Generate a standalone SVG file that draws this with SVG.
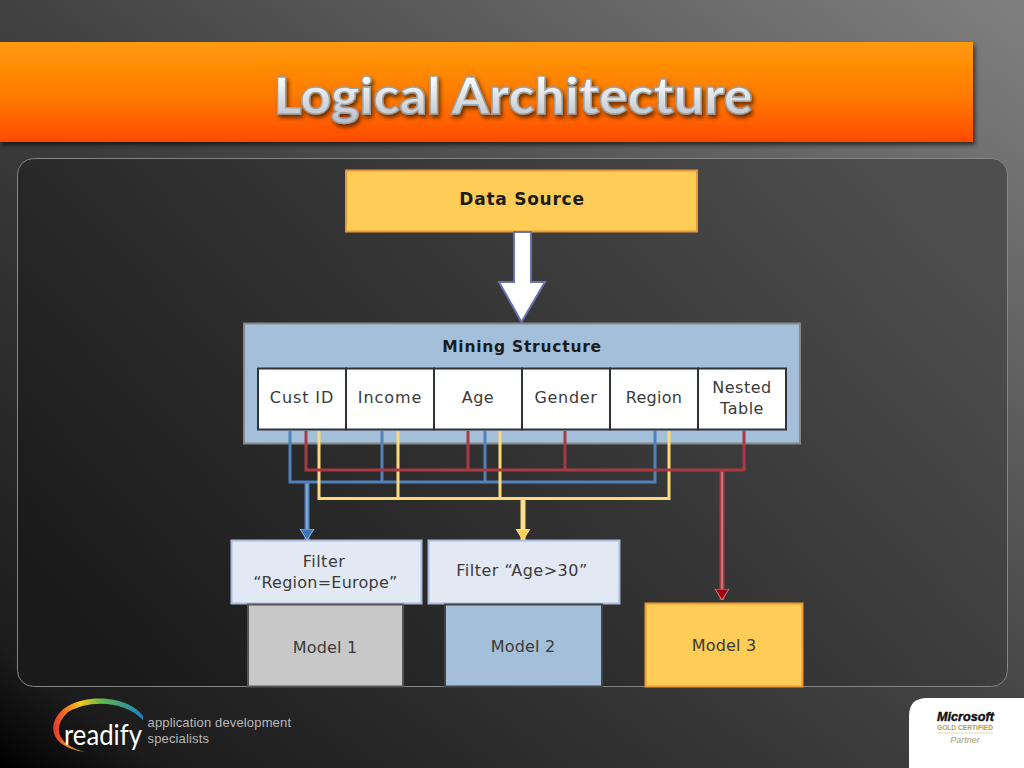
<svg xmlns="http://www.w3.org/2000/svg" width="1024" height="768" viewBox="0 0 1024 768">
<style>
.t{font-family:"DejaVu Sans",sans-serif;font-size:16px;fill:#3a3a3a;text-anchor:middle;letter-spacing:.5px}
.b{font-weight:bold;fill:#1c1c1c;letter-spacing:.75px}
.blue{stroke:#4f81bd}.red{stroke:#a83a42}.yel{stroke:#ffd978}
.w{fill:none;stroke-width:3}
.ov{fill:none;stroke:#f2f2f2;stroke-width:1.200;opacity:.55}
.col{fill:#fff;stroke:#2e3338;stroke-width:2}
</style>
<defs>
<linearGradient id="bg" x1="0" y1="1" x2="1" y2="0"><stop offset="0" stop-color="#000"/><stop offset=".08" stop-color="#1c1c1c"/><stop offset=".5" stop-color="#414141"/><stop offset="1" stop-color="#808080"/></linearGradient>
<linearGradient id="panel" x1="0" y1=".75" x2="1" y2=".25"><stop offset="0" stop-color="#1a1a1a"/><stop offset=".5" stop-color="#333"/><stop offset="1" stop-color="#4e4e4e"/></linearGradient>
<linearGradient id="bar" x1="0" y1="0" x2="0" y2="1"><stop offset="0" stop-color="#ff9a0a"/><stop offset=".55" stop-color="#ff7a00"/><stop offset="1" stop-color="#ff4a00"/></linearGradient>
<linearGradient id="title" x1="0" y1="0" x2="0" y2="1"><stop offset=".2" stop-color="#fff"/><stop offset="1" stop-color="#b4bcc4"/></linearGradient>
<linearGradient id="ring" x1="0" y1="0" x2="1" y2="0"><stop offset="0" stop-color="#e8322a"/><stop offset=".3" stop-color="#f6c81e"/><stop offset=".55" stop-color="#5cb84a"/><stop offset="1" stop-color="#1d7fc4"/></linearGradient>
<filter id="sh" x="-5%" y="-20%" width="110%" height="140%"><feDropShadow dx="2" dy="3" stdDeviation="2" flood-color="#000" flood-opacity=".6"/></filter>
<marker id="ab" markerWidth="16" markerHeight="12" refX="8" refY="11" markerUnits="userSpaceOnUse" viewBox="0 0 16 12"><path d="M1 0H15L8 11Z" fill="#3d74b8" stroke="#9db8d8"/></marker>
<marker id="ay" markerWidth="16" markerHeight="12" refX="8" refY="11" markerUnits="userSpaceOnUse" viewBox="0 0 16 12"><path d="M1 0H15L8 11Z" fill="#ffd05a" stroke="#ffe199"/></marker>
<marker id="ar" markerWidth="16" markerHeight="12" refX="8" refY="11" markerUnits="userSpaceOnUse" viewBox="0 0 16 12"><path d="M1 0H15L8 11Z" fill="#a00010" stroke="#d08a8a"/></marker>
</defs>
<rect width="1024" height="768" fill="url(#bg)"/>
<rect x="17.500" y="158.500" width="990" height="528" rx="16" fill="url(#panel)" stroke="#858585"/>
<rect id="title-bar" x="0" y="42" width="973" height="100" fill="url(#bar)" filter="url(#sh)"/>
<text x="513" y="114" text-anchor="middle" font-family="Lato,sans-serif" font-weight="900" font-size="52" textLength="479" lengthAdjust="spacingAndGlyphs" fill="url(#title)" stroke="#9aa0a6" stroke-width="1.400" filter="url(#sh)">Logical Architecture</text>

<g id="data-source"><rect x="346" y="170.500" width="351" height="61" fill="#ffcc55" stroke="#e39a3c" stroke-width="2"/><text class="t b" x="522" y="205" style="font-size:17px">Data Source</text></g>
<g id="source-arrow"><path d="M514 232V282H499L521.500 322L545 282H531V232Z" fill="#fff" stroke="#6a72b0" stroke-width="2"/></g>

<g id="mining-structure"><rect x="244" y="323.500" width="556" height="120" fill="#a3bfd9" stroke="#888" stroke-width="2"/><text class="t b" x="522" y="352" style="font-size:15.500px">Mining Structure</text></g>
<g id="col-cust-id"><rect class="col" x="258" y="368.500" width="88" height="61"/><text class="t" x="302" y="403" style="letter-spacing:.9px">Cust ID</text></g>
<g id="col-income"><rect class="col" x="346" y="368.500" width="88" height="61"/><text class="t" x="390" y="403" style="letter-spacing:.9px">Income</text></g>
<g id="col-age"><rect class="col" x="434" y="368.500" width="88" height="61"/><text class="t" x="478" y="403">Age</text></g>
<g id="col-gender"><rect class="col" x="522" y="368.500" width="88" height="61"/><text class="t" x="566" y="403" style="letter-spacing:.7px">Gender</text></g>
<g id="col-region"><rect class="col" x="610" y="368.500" width="88" height="61"/><text class="t" x="654" y="403" style="letter-spacing:.3px">Region</text></g>
<g id="col-nested"><rect class="col" x="698" y="368.500" width="88" height="61"/><text class="t" x="742" y="393">Nested</text><text class="t" x="742" y="414">Table</text></g>

<g id="connectors">
<path class="w blue" d="M290 431V482H655V431M382 431V482M485 431V482"/>
<path class="w yel" d="M319 431V498.500H669V431M398 431V498.500M500 431V498.500"/>
<path class="w red" d="M306 431V470H744V431M468 431V470M565 431V470"/>
<path class="w blue" d="M307 483V540" style="stroke-width:5" marker-end="url(#ab)"/>
<path class="w yel" d="M523 499V540" style="stroke-width:5" marker-end="url(#ay)"/>
<path class="w red" d="M722 471V600" style="stroke-width:5" marker-end="url(#ar)"/>
<path class="ov" d="M307 484V529M523 500V529M722 472V589"/>
</g>

<g id="filter-region"><rect x="231.500" y="540.500" width="190" height="63" fill="#e2e9f5" stroke="#a9bcdc" stroke-width="2"/><text class="t" x="324" y="567">Filter</text><text class="t" x="325.500" y="588" style="letter-spacing:.25px">“Region=Europe”</text></g>
<g id="filter-age"><rect x="428.500" y="540.500" width="191" height="63" fill="#e2e9f5" stroke="#a9bcdc" stroke-width="2"/><text class="t" x="522" y="576">Filter “Age&gt;30”</text></g>
<g id="model-1"><rect x="248" y="604.500" width="155" height="82" fill="#c8c8c8" stroke="#555" stroke-width="2"/><text class="t" x="325" y="653" style="letter-spacing:.2px">Model 1</text></g>
<g id="model-2"><rect x="445" y="604.500" width="157" height="82" fill="#a3bfd9" stroke="#444" stroke-width="2"/><text class="t" x="523" y="652" style="letter-spacing:.2px">Model 2</text></g>
<g id="model-3"><rect x="645.500" y="603.500" width="157" height="83" fill="#ffcc55" stroke="#f09a30" stroke-width="2"/><text class="t" x="724" y="651" style="letter-spacing:.2px">Model 3</text></g>

<g id="readify">
<path d="M143 716C130 697 90 693 68 706C46 719 46 747 85 752C60 746 50 729 68 712C90 699 125 701 143 720Z" fill="url(#ring)"/>
<text x="64" y="745" font-family="Lato,sans-serif" font-size="29" fill="#fff" textLength="78" lengthAdjust="spacingAndGlyphs">readify</text>
<text x="147.500" y="727" font-family="Liberation Sans,sans-serif" font-size="13" fill="#b8b8b8" textLength="143.500">application development</text>
<text x="147.500" y="743" font-family="Liberation Sans,sans-serif" font-size="13" fill="#b8b8b8" textLength="61.500">specialists</text>
</g>
<g id="microsoft-badge">
<path d="M1024 698H927Q909 698 909 716V768H1024Z" fill="#fff"/>
<text x="965.500" y="721" text-anchor="middle" font-family="Liberation Sans,sans-serif" font-weight="bold" font-style="italic" font-size="12.500" fill="#111" stroke="#111" stroke-width=".4" textLength="57" lengthAdjust="spacingAndGlyphs">Microsoft</text>
<text x="965" y="730" text-anchor="middle" font-family="Liberation Sans,sans-serif" font-weight="bold" font-size="7" fill="#b49a50" textLength="56" lengthAdjust="spacingAndGlyphs">GOLD CERTIFIED</text>
<path d="M937 733H993" stroke="#d6c48a" stroke-width=".7"/>
<text x="965" y="743" text-anchor="middle" font-family="Liberation Sans,sans-serif" font-style="italic" font-size="9" fill="#a89a70">Partner</text>
</g>
</svg>
